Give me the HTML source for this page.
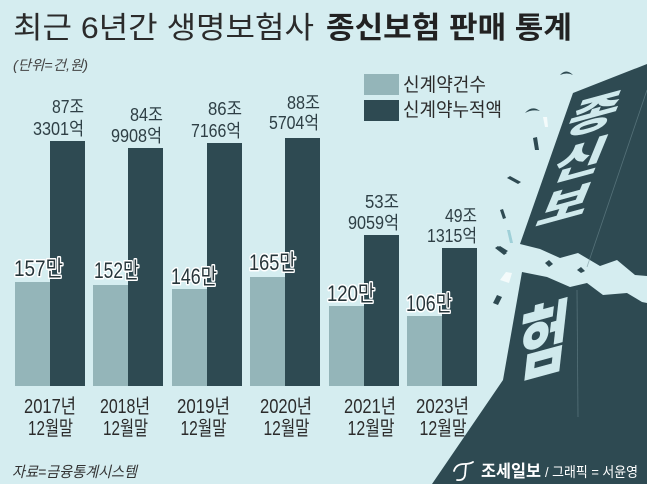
<!DOCTYPE html>
<html>
<head>
<meta charset="utf-8">
<style>
  html,body{margin:0;padding:0;background:#d5edf0;}
  svg{display:block;}
  text{font-family:"Liberation Sans","Noto Sans CJK KR",sans-serif;}
</style>
</head>
<body>
<svg width="647" height="484" viewBox="0 0 647 484" xmlns="http://www.w3.org/2000/svg">
  <rect x="0" y="0" width="647" height="484" fill="#d5edf0"/>

  <!-- Title -->
  <text x="13" y="38" font-size="30" fill="#2b2b2b" textLength="301" lengthAdjust="spacingAndGlyphs">최근 6년간 생명보험사</text>
  <text x="326" y="38" font-size="30" font-weight="bold" fill="#222" textLength="246" lengthAdjust="spacingAndGlyphs">종신보험 판매 통계</text>
  <text x="13" y="70" font-size="14" font-style="italic" fill="#444" textLength="75" lengthAdjust="spacingAndGlyphs">(단위=건,원)</text>

  <!-- Legend -->
  <rect x="364" y="74" width="35" height="21" fill="#94b5b9"/>
  <rect x="364" y="100" width="35" height="21" fill="#2e4a52"/>
  <text x="403" y="91" font-size="19" fill="#2b2b2b" textLength="83" lengthAdjust="spacingAndGlyphs">신계약건수</text>
  <text x="403" y="116" font-size="19" fill="#2b2b2b" textLength="99" lengthAdjust="spacingAndGlyphs">신계약누적액</text>

  <!-- Right graphic: slab -->
  <polygon fill="#2e4a52" points="573,93 647,64 647,276 635,275 617,260 600,266 578,253 560,258 540,249 520,244"/>
  <polygon fill="#2e4a52" points="522,272 547,277 570,287 587,283 603,295 627,293 642,302 647,303 647,484 432,484 460,443 503,380"/>
  <line x1="647" y1="90" x2="587" y2="267" stroke="#6f8c93" stroke-width="0.8" opacity="0.6"/>
  <line x1="577" y1="290" x2="578" y2="417" stroke="#6f8c93" stroke-width="0.8" opacity="0.6"/>

  <!-- slab lettering -->
  <g fill="#cfe9ec" font-weight="900" font-size="50" text-anchor="middle" style="font-family:'Noto Sans CJK KR','Liberation Sans',sans-serif;">
    <text transform="translate(594,114) matrix(1.1,-0.3,-0.35,0.85,0,0)" y="18">종</text>
    <text transform="translate(580,160) matrix(1.1,-0.3,-0.35,0.85,0,0)" y="18">신</text>
    <text transform="translate(565,205) matrix(1.1,-0.3,-0.35,0.85,0,0)" y="18">보</text>
    <text transform="translate(543,341) matrix(1.1,-0.3,-0.18,1.6,0,0)" y="18">험</text>
  </g>

  <!-- confetti -->
  <g fill="#2e4a52">
    <path d="M560 75 q6 -7 13 0 q-6 -3 -13 0z"/>
    <path d="M525 113 q7 -8 15 -2 q-8 -2 -15 2z"/>
    <polygon points="533,138 537,137 539,150 535,150"/>
    <polygon points="507,178 510,176 521,182 518,184"/>
    <polygon points="500,210 503,209 506,218 503,219"/>
    <polygon points="497,248 500,246 508,251 505,253"/>
    <polygon points="495,248 498,246 507,253 504,255"/>
    <polygon points="545,263 549,260 553,264 549,267"/>
    <polygon points="577,270 581,267 585,271 581,273"/>
    <polygon points="493,303 497,295 502,297 498,305"/>
  </g>
  <polygon points="543,117 547,117 548,127 545,127" fill="#f4fbfb"/>
  <polygon points="500,280 506,272 512,273 509,283" fill="#f4fbfb"/>
  <polygon points="507,230 510,230 513,243 510,243" fill="#9fd0d8"/>

  <!-- Bars -->
  <g fill="#94b5b9">
    <rect x="15" y="282" width="35" height="104"/>
    <rect x="93" y="285" width="35" height="101"/>
    <rect x="172" y="289" width="35" height="97"/>
    <rect x="250" y="277" width="35" height="109"/>
    <rect x="329" y="306" width="35" height="80"/>
    <rect x="407" y="316" width="35" height="70"/>
  </g>
  <g fill="#2e4a52">
    <rect x="50" y="141" width="35" height="245"/>
    <rect x="128" y="148" width="35" height="238"/>
    <rect x="207" y="143" width="35" height="243"/>
    <rect x="285" y="138" width="35" height="248"/>
    <rect x="364" y="235" width="35" height="151"/>
    <rect x="442" y="248" width="35" height="138"/>
  </g>

  <!-- top value labels -->
  <g font-size="18" fill="#2e3f45" text-anchor="end">
    <text x="84" y="113" textLength="32" lengthAdjust="spacingAndGlyphs">87조</text>
    <text x="84" y="135" textLength="51" lengthAdjust="spacingAndGlyphs">3301억</text>
    <text x="163" y="121" textLength="33" lengthAdjust="spacingAndGlyphs">84조</text>
    <text x="162" y="142" textLength="51" lengthAdjust="spacingAndGlyphs">9908억</text>
    <text x="242" y="115" textLength="34" lengthAdjust="spacingAndGlyphs">86조</text>
    <text x="241" y="137" textLength="50" lengthAdjust="spacingAndGlyphs">7166억</text>
    <text x="320" y="109" textLength="33" lengthAdjust="spacingAndGlyphs">88조</text>
    <text x="319" y="129" textLength="50" lengthAdjust="spacingAndGlyphs">5704억</text>
    <text x="399" y="208" textLength="34" lengthAdjust="spacingAndGlyphs">53조</text>
    <text x="399" y="229" textLength="51" lengthAdjust="spacingAndGlyphs">9059억</text>
    <text x="477" y="222" textLength="32" lengthAdjust="spacingAndGlyphs">49조</text>
    <text x="477" y="242" textLength="50" lengthAdjust="spacingAndGlyphs">1315억</text>
  </g>

  <!-- light bar labels -->
  <g font-size="22" fill="#26353a" stroke="#ffffff" stroke-width="3" stroke-linejoin="round" paint-order="stroke">
    <text x="14" y="276" textLength="49" lengthAdjust="spacingAndGlyphs">157만</text>
    <text x="94" y="278" textLength="45" lengthAdjust="spacingAndGlyphs">152만</text>
    <text x="171" y="284" textLength="46" lengthAdjust="spacingAndGlyphs">146만</text>
    <text x="249" y="270" textLength="47" lengthAdjust="spacingAndGlyphs">165만</text>
    <text x="327" y="301" textLength="48" lengthAdjust="spacingAndGlyphs">120만</text>
    <text x="406" y="311" textLength="46" lengthAdjust="spacingAndGlyphs">106만</text>
  </g>

  <!-- x labels -->
  <g font-size="20" fill="#2b2b2b" text-anchor="middle">
    <text x="50" y="413" textLength="52" lengthAdjust="spacingAndGlyphs">2017년</text>
    <text x="125" y="413" textLength="50" lengthAdjust="spacingAndGlyphs">2018년</text>
    <text x="203.5" y="413" textLength="53" lengthAdjust="spacingAndGlyphs">2019년</text>
    <text x="286" y="413" textLength="52" lengthAdjust="spacingAndGlyphs">2020년</text>
    <text x="370" y="413" textLength="52" lengthAdjust="spacingAndGlyphs">2021년</text>
    <text x="442.5" y="413" textLength="53" lengthAdjust="spacingAndGlyphs">2023년</text>
  </g>
  <g font-size="20" fill="#2b2b2b" text-anchor="middle">
    <text x="50.5" y="435" textLength="45" lengthAdjust="spacingAndGlyphs">12월말</text>
    <text x="125.5" y="435" textLength="45" lengthAdjust="spacingAndGlyphs">12월말</text>
    <text x="203.5" y="435" textLength="46" lengthAdjust="spacingAndGlyphs">12월말</text>
    <text x="286.5" y="435" textLength="46" lengthAdjust="spacingAndGlyphs">12월말</text>
    <text x="371" y="435" textLength="47" lengthAdjust="spacingAndGlyphs">12월말</text>
    <text x="443" y="435" textLength="47" lengthAdjust="spacingAndGlyphs">12월말</text>
  </g>

  <!-- source -->
  <text x="12" y="477" font-size="15" font-style="italic" fill="#333" textLength="125" lengthAdjust="spacingAndGlyphs">자료=금융통계시스템</text>

  <!-- footer credit -->
  <path d="M454 471 q2 -7 10 -7 q6 0 9 -2 M466 464 l-1 11 q-1 6 -8 5" stroke="#ffffff" stroke-width="1.8" fill="none" stroke-linecap="round"/>
  <text x="481" y="477" font-size="17" font-weight="bold" fill="#ffffff" textLength="60" lengthAdjust="spacingAndGlyphs">조세일보</text>
  <text x="545" y="477" font-size="14" fill="#ffffff" textLength="93" lengthAdjust="spacingAndGlyphs">/ 그래픽 = 서윤영</text>
</svg>
</body>
</html>
